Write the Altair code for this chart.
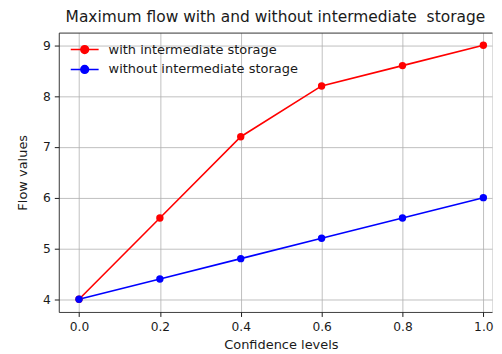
import altair as alt
import pandas as pd

confidence = [0.0, 0.2, 0.4, 0.6, 0.8, 1.0]
with_storage = [4.0, 5.6, 7.2, 8.2, 8.6, 9.0]
without_storage = [4.0, 4.4, 4.8, 5.2, 5.6, 6.0]
series_names = ["with intermediate storage", "without intermediate storage"]
series_colors = ["#ff0000", "#0000ff"]
x_ticks = [0.0, 0.2, 0.4, 0.6, 0.8, 1.0]
y_ticks = [4, 5, 6, 7, 8, 9]

rows = []
for name, vals in zip(series_names, [with_storage, without_storage]):
    for i, (c, v) in enumerate(zip(confidence, vals)):
        rows.append({"conf": c, "flow": v, "series": name, "order": i})
df = pd.DataFrame(rows)

FONT = "DejaVu Sans"
TXT = "#1a1a1a"

# plot area is clipped at the right edge like the reference (406 px per unit)
xscale = alt.Scale(domain=[-0.05, 1.0214], nice=False, zero=False)
yscale = alt.Scale(domain=[3.75, 9.25], nice=False, zero=False)

xaxis = alt.Axis(values=x_ticks, format=".1f", title="Confidence levels", grid=True,
                 gridColor="#b0b0b0", gridWidth=0.8, tickSize=4.5, tickColor=TXT,
                 domainColor=TXT, domainWidth=0.8, labelPadding=4, titlePadding=6,
                 labelFont=FONT, labelFontSize=12.3, labelColor=TXT,
                 titleFont=FONT, titleFontSize=13, titleFontWeight="normal", titleColor=TXT,
                 titleX=223)
yaxis = alt.Axis(values=y_ticks, format="d", title="Flow values", grid=True,
                 gridColor="#b0b0b0", gridWidth=0.8, tickSize=4.5, tickColor=TXT,
                 domainColor=TXT, domainWidth=0.8, labelPadding=4, titlePadding=13,
                 labelFont=FONT, labelFontSize=12.3, labelColor=TXT,
                 titleFont=FONT, titleFontSize=13, titleFontWeight="normal", titleColor=TXT)

legend_path = "M-2,0L2,0M-0.55,0A0.55,0.55,0,1,0,0.55,0A0.55,0.55,0,1,0,-0.55,0"
legend = alt.Legend(title=None, orient="none", legendX=18, legendY=9,
                    symbolType=legend_path, symbolSize=196, symbolStrokeWidth=1.6,
                    labelFont=FONT, labelFontSize=13, labelColor=TXT, labelLimit=400,
                    labelOffset=16, rowPadding=4, padding=0)

cscale = alt.Scale(domain=series_names, range=series_colors)

lines = alt.Chart(df).mark_line(strokeWidth=1.6).encode(
    x=alt.X("conf:Q", scale=xscale, axis=xaxis),
    y=alt.Y("flow:Q", scale=yscale, axis=yaxis),
    stroke=alt.Stroke("series:N", scale=cscale, legend=legend),
    order="order:Q",
)
points = alt.Chart(df).mark_circle(size=55, opacity=1).encode(
    x=alt.X("conf:Q", scale=xscale,
            axis=alt.Axis(orient="top", labels=False, ticks=False, grid=False, title=None,
                          domainColor=TXT, domainWidth=0.8)),
    y=alt.Y("flow:Q", scale=yscale),
    fill=alt.Fill("series:N", scale=cscale, legend=legend),
)

chart = alt.layer(lines, points).resolve_axis(x="independent").properties(
    width=435, height=280.5,
    autosize=alt.AutoSizeParams(type="none"),
    padding={"left": 51, "top": 24, "right": 2, "bottom": 40},
    title=alt.TitleParams("Maximum flow with and without intermediate\u00a0 storage",
                          font=FONT, fontSize=15.5, fontWeight="normal", color=TXT,
                          anchor="middle", offset=7),
).configure_view(stroke=None).configure(background="white")

chart.save("out.html", embed_options={"renderer": "svg", "actions": False})
